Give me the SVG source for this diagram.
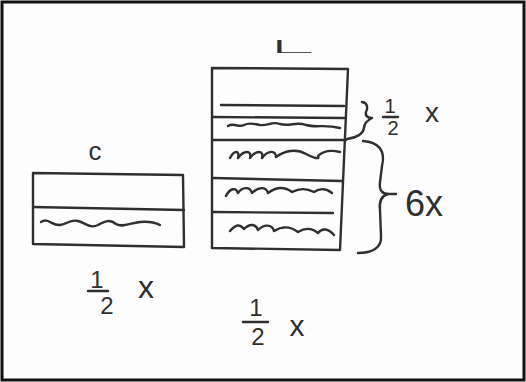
<svg xmlns="http://www.w3.org/2000/svg" width="526" height="382" viewBox="0 0 526 382">
<style>
.ink{fill:none;stroke:#2f2f2f;stroke-width:2.4;stroke-linecap:round;stroke-linejoin:round}
.t{font-family:"Liberation Sans",Arial,sans-serif;fill:#2f2f2f;text-anchor:middle}
</style>
<rect x="0" y="0" width="526" height="382" fill="#fdfdfd"/>
<rect x="2" y="2" width="522" height="378" fill="none" stroke="#111" stroke-width="3"/>

<g id="left-block">
<path class="ink" d="M33,173 L183,175 L184,247 L33,244 Z"/>
<path class="ink" d="M33,207 L184,210"/>
<path class="ink" d="M41,222 C48,217 52,226 60,225 C68,224 70,219 78,221 C86,223 90,229 98,225 C105,221 110,219 116,224 C122,228 130,223 140,222 C150,221 156,223 160,225"/>
<text class="t" x="95" y="160" font-size="26">c</text>
<text class="t" x="97" y="288" font-size="24">1</text>
<path class="ink" d="M88,291 L108,291"/>
<text class="t" x="107" y="314" font-size="24">2</text>
<text class="t" x="146" y="298" font-size="32">x</text>
</g>

<g id="right-block">
<path class="ink" d="M212,68 L348,69 L340,250 L212,248 Z"/>
<path class="ink" d="M221,105 L344,106"/>
<path class="ink" d="M213,117 L344,118"/>
<path class="ink" d="M213,140 L346,140"/>
<path class="ink" d="M213,178 L342,181"/>
<path class="ink" d="M213,212 L333,213"/>
<path class="ink" d="M228,126 C234,122 238,128 244,125 C250,122 254,124 260,125 C268,126 272,121 280,124 C290,127 296,121 306,125 C316,128 324,124 340,128"/>
<path class="ink" d="M230,158 C234,150 240,150 238,158 C244,150 252,150 250,158 C256,150 264,150 262,158 C268,150 276,150 276,157 C284,151 296,148 306,154 C314,158 320,160 318,156 C324,150 332,150 340,152"/>
<path class="ink" d="M226,196 C230,188 236,187 238,193 C242,187 250,186 252,193 C258,187 266,186 268,193 C276,187 284,186 292,192 C300,188 306,188 314,192 C320,188 326,188 332,193"/>
<path class="ink" d="M230,231 C236,224 240,224 244,229 C250,223 256,224 258,230 C264,224 272,224 274,231 C282,226 290,226 298,232 C306,227 312,228 318,233 C322,228 328,228 334,235"/>
<text x="267" y="53" font-family="'DejaVu Sans',sans-serif" font-weight="200" font-size="17" fill="#2f2f2f" textLength="47" lengthAdjust="spacingAndGlyphs">L</text>
</g>

<g id="annotations">
<path class="ink" d="M362,102 C368,103 368,108 366,112 C365,116 368,118 372,118 C366,121 364,124 364,128 C363,134 356,138 347,139"/>
<text class="t" x="390" y="113" font-size="20">1</text>
<path class="ink" d="M383,117 L398,117"/>
<text class="t" x="393" y="135" font-size="20">2</text>
<text class="t" x="432" y="122" font-size="28">x</text>
<path class="ink" d="M363,141 C378,142 386,150 382,166 L380,182 C379,190 382,194 388,194 C381,196 379,202 380,210 L381,236 C382,248 372,253 358,253"/>
<path class="ink" d="M388,194 L396,194"/>
<text class="t" x="424" y="216" font-size="36">6x</text>
<text class="t" x="256" y="316" font-size="24">1</text>
<path class="ink" d="M243,322 L268,322"/>
<text class="t" x="258" y="345" font-size="24">2</text>
<text class="t" x="297" y="336" font-size="30">x</text>
</g>
</svg>
